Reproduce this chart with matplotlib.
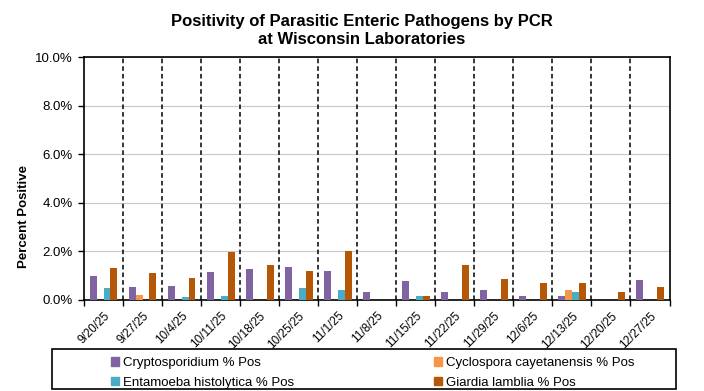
import numpy as np
import matplotlib.pyplot as plt
from matplotlib.patches import Patch, Rectangle
from matplotlib.ticker import PercentFormatter

plt.rcParams['font.family'] = ['Liberation Sans', 'DejaVu Sans']

weeks = ['9/20/25', '9/27/25', '10/4/25', '10/11/25', '10/18/25', '10/25/25', '11/1/25',
         '11/8/25', '11/15/25', '11/22/25', '11/29/25', '12/6/25', '12/13/25', '12/20/25',
         '12/27/25']
crypto = [0.99, 0.53, 0.58, 1.15, 1.27, 1.36, 1.19, 0.33, 0.78, 0.33, 0.41, 0.16, 0.16, 0.0, 0.82]
cyclo = [0.0, 0.21, 0.0, 0.0, 0.0, 0.0, 0.0, 0.0, 0.0, 0.0, 0.0, 0.0, 0.41, 0.0, 0.0]
entam = [0.49, 0.0, 0.12, 0.16, 0.0, 0.49, 0.41, 0.0, 0.16, 0.0, 0.0, 0.0, 0.33, 0.0, 0.0]
giardia = [1.32, 1.11, 0.90, 1.97, 1.44, 1.19, 2.01, 0.0, 0.16, 1.44, 0.86, 0.70, 0.70, 0.33, 0.53]

series = [
    ('Cryptosporidium % Pos', crypto, '#8064A2'),
    ('Cyclospora cayetanensis % Pos', cyclo, '#F79646'),
    ('Entamoeba histolytica % Pos', entam, '#4BACC6'),
    ('Giardia lamblia % Pos', giardia, '#B65708'),
]

W, H = 704, 391
fig = plt.figure(figsize=(W / 100, H / 100), dpi=100)
ax = fig.add_axes([84 / W, 91 / H, 585.5 / W, 243 / H])

x = np.arange(len(weeks))
bw = 0.178
for i, (name, vals, col) in enumerate(series):
    ax.bar(x + (i - 1.5) * bw, vals, bw, color=col, linewidth=0, zorder=3)

# dashed separators between weeks
for b in np.arange(0.5, len(weeks) - 1, 1):
    ax.axvline(b, color='black', lw=1.1, ls=(0, (3, 2)), zorder=2)

ax.set_xlim(-0.5, len(weeks) - 0.5)
ax.set_ylim(0, 10)
ax.set_yticks(np.arange(0, 10.1, 2))
ax.yaxis.set_major_formatter(PercentFormatter(decimals=1))
ax.yaxis.grid(True, color='#c8c8c8', lw=0.8, zorder=0)

ax.set_xticks(np.arange(-0.5, len(weeks), 1))
ax.set_xticklabels([])
ax.set_xticks(x, minor=True)
ax.set_xticklabels(weeks, minor=True, rotation=45, ha='right', rotation_mode='anchor', fontsize=8.5)
ax.tick_params(axis='x', which='minor', length=0, pad=7)
ax.tick_params(axis='x', which='major', length=4, width=1)
ax.tick_params(axis='y', length=4, width=1, labelsize=9.5, pad=4)

for s in ax.spines.values():
    s.set_color('black')
    s.set_linewidth(1.2)

fig.text(24 / W, 1 - 217 / H, 'Percent Positive', rotation=90, ha='center', va='center',
         fontsize=9.5, fontweight='bold')
fig.text(362 / W, 1 - 30.5 / H, 'Positivity of Parasitic Enteric Pathogens by PCR\nat Wisconsin Laboratories',
         ha='center', va='center', fontsize=12, fontweight='bold', linespacing=1.25)

# legend box
fig.patches.append(Rectangle((52 / W, 1 - 389 / H), 624 / W, 40 / H, transform=fig.transFigure,
                             fill=False, edgecolor='black', lw=1.2))
handles = [Patch(color=c) for _, _, c in series]
labels = [n for n, _, _ in series]
order = [0, 2, 1, 3]
leg = fig.legend([handles[i] for i in order], [labels[i] for i in order], ncol=2,
                 loc='upper left', bbox_to_anchor=(111 / W, 1 - 357 / H),
                 fontsize=9.5, frameon=False, handlelength=0.6, handleheight=0.6,
                 handletextpad=0.3, borderpad=0, labelspacing=0.6, columnspacing=10.6,
                 borderaxespad=0)

fig.savefig('out.png', dpi=100)
